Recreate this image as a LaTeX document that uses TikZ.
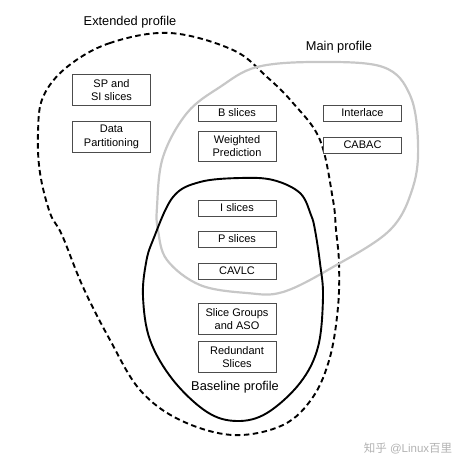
\documentclass[tikz,border=0pt]{standalone}
\usepackage{fontspec}
\setmainfont{Liberation Sans}
\newfontfamily\cjk{Noto Sans CJK SC}
\usepackage{tikz}

\tikzset{
  feature/.style={draw=black!70, line width=1pt, fill=white, minimum width=78pt, minimum height=16pt, inner sep=1pt, align=center, font=\fontsize{11}{13.5}\selectfont},
  twoline/.style={feature, minimum height=31pt},
  setlabel/.style={font=\fontsize{12.8}{14}\selectfont},
}

\begin{document}
\begin{tikzpicture}[x=1pt, y=-1pt]
\useasboundingbox (0,0) rectangle (474,467);
\draw[black, line width=1.9pt, dash pattern=on 5.5pt off 3.5pt] plot[smooth cycle, tension=0.6] coordinates {
(170,33) (110,43) (67,67) (43,97) (38,133) (40,173) (50,213) (62,235) (83,287) (110,340) (140,390) (180,420) (233,435) (283,425) (313,397) (330,357) (338,307) (339,263) (336,230) (333,200) (320,140) (293,103) (267,77) (233,50)};
\draw[black!22, line width=2.2pt] plot[smooth cycle, tension=0.6] coordinates {
(257,67) (317,62) (383,67) (410,95) (418,143) (413,187) (390,230) (333,267) (283,292) (247,293) (200,285) (167,260) (158,230) (157,207) (163,157) (187,113) (220,87)};
\draw[black, line width=1.9pt] plot[smooth cycle, tension=0.6] coordinates {
(240,178) (200,182) (173,197) (153,240) (146,263) (143,297) (150,340) (173,380) (207,412) (237,421) (267,413) (300,383) (318,347) (323,297) (320,263) (315,230) (311,215) (300,193) (273,180)};
\node[twoline] (spsi) at (111.5,90) {SP and\\SI slices};
\node[twoline] (datapart) at (111.5,137) {Data\\Partitioning};
\node[feature] (bslices) at (237,113) {B slices};
\node[twoline, minimum height=30pt] (weighted) at (237,146) {Weighted\\Prediction};
\node[feature] (interlace) at (362.5,113) {Interlace};
\node[feature] (cabac) at (362.5,145) {CABAC};
\node[feature] (islices) at (237,208) {I slices};
\node[feature] (pslices) at (237,239) {P slices};
\node[feature] (cavlc) at (237,271) {CAVLC};
\node[twoline] (groups) at (237,319) {Slice Groups\\and ASO};
\node[twoline] (redundant) at (237,357) {Redundant\\Slices};
\node[setlabel] (extended) at (130,22) {Extended profile};
\node[setlabel] (main) at (339,47) {Main profile};
\node[setlabel] (baseline) at (235,387) {Baseline profile};
\node[text=black!30, font=\fontsize{11.5}{13}\selectfont] (mark) at (408,448) {{\cjk 知乎} @Linux{\cjk 百里}};
\end{tikzpicture}
\end{document}
